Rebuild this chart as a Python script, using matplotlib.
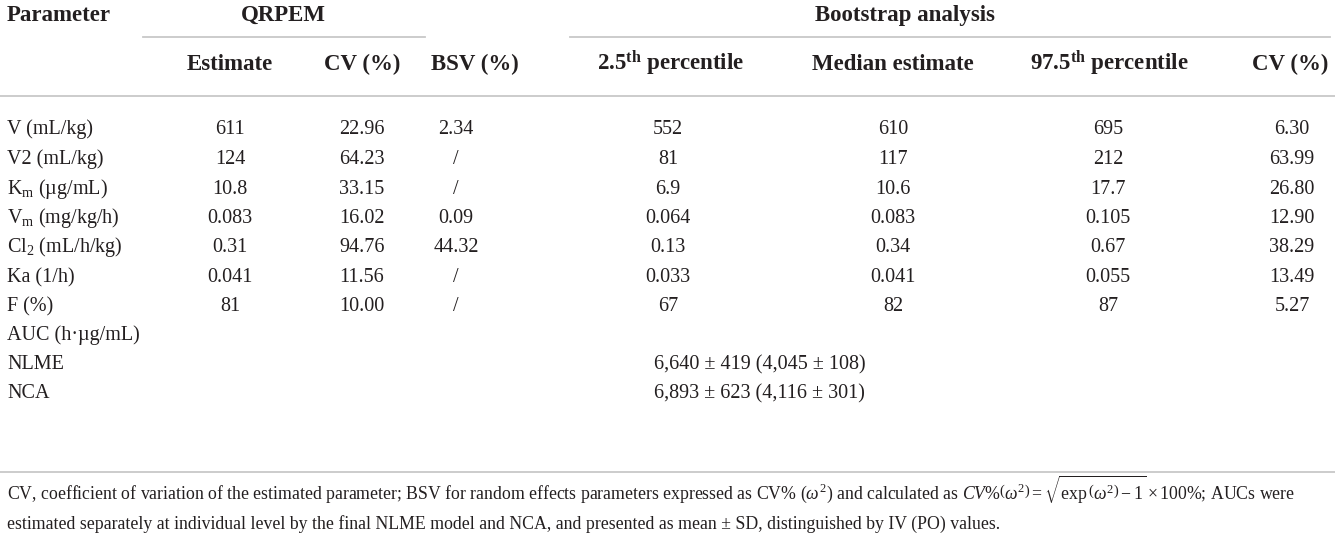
import matplotlib.pyplot as plt
from matplotlib.lines import Line2D

plt.rcParams['font.family'] = ['Liberation Serif', 'DejaVu Serif']
plt.rcParams['mathtext.fontset'] = 'custom'
plt.rcParams['mathtext.rm'] = 'Liberation Serif'
plt.rcParams['mathtext.it'] = 'Liberation Serif:italic'
plt.rcParams['mathtext.bf'] = 'Liberation Serif:bold'

# table content
params = ['V (mL/kg)', 'V2 (mL/kg)', r'K$_{\mathrm{m}}$ (µg/mL)', r'V$_{\mathrm{m}}$ (mg/kg/h)',
          r'Cl$_{2}$ (mL/h/kg)', 'Ka (1/h)', 'F (%)']
estimate = ['611', '124', '10.8', '0.083', '0.31', '0.041', '81']
cv_qrpem = ['22.96', '64.23', '33.15', '16.02', '94.76', '11.56', '10.00']
bsv = ['2.34', '/', '/', '0.09', '44.32', '/', '/']
p2_5 = ['552', '81', '6.9', '0.064', '0.13', '0.033', '67']
median = ['610', '117', '10.6', '0.083', '0.34', '0.041', '82']
p97_5 = ['695', '212', '17.7', '0.105', '0.67', '0.055', '87']
cv_boot = ['6.30', '63.99', '26.80', '12.90', '38.29', '13.49', '5.27']

auc_label = 'AUC (h·µg/mL)'
auc_rows = ['NLME', 'NCA']
auc_vals = ['6,640 ± 419 (4,045 ± 108)', '6,893 ± 623 (4,116 ± 301)']

col_heads = ['Estimate', 'CV (%)', 'BSV (%)', r'2.5$^{\mathbf{th}}$ percentile',
             'Median estimate', r'97.5$^{\mathbf{th}}$ percentile', 'CV (%)']

W, H = 1335, 541
fig = plt.figure(figsize=(W / 100, H / 100), dpi=100)
fig.patch.set_facecolor('white')


def put(x, y, s, **kw):
    # y is the baseline in pixels from the top
    fig.text(x / W, 1 - y / H, s, va='baseline', color='#231f20', **kw)


def rule(x0, x1, y):
    fig.add_artist(Line2D([x0 / W, x1 / W], [1 - y / H, 1 - y / H],
                          color='#c8c8c8', lw=1.3, transform=fig.transFigure))


fs_head = 16.5
fs_body = 14.5
col_x = [230, 362, 456, 668, 893, 1108, 1292]
head_x = [230, 362, 475, 671, 893, 1109, 1290]

# header
put(7, 21, 'Parameter', fontsize=fs_head, fontweight='bold')
put(283, 21, 'QRPEM', fontsize=fs_head, fontweight='bold', ha='center')
put(905, 21, 'Bootstrap analysis', fontsize=fs_head, fontweight='bold', ha='center')
rule(143, 425, 37)
rule(570, 1330, 37)
for x, h in zip(head_x, col_heads):
    put(x, 70, h, fontsize=fs_head, fontweight='bold', ha='center')
rule(0, 1335, 96)

# body
row_y = [134, 164, 194, 223, 252, 282, 311]
cols = [estimate, cv_qrpem, bsv, p2_5, median, p97_5, cv_boot]
for i, y in enumerate(row_y):
    put(7, y, params[i], fontsize=fs_body)
    for x, c in zip(col_x, cols):
        put(x, y, c[i], fontsize=fs_body, ha='center')

put(7, 340, auc_label, fontsize=fs_body)
for y, lab, val in zip([369, 398], auc_rows, auc_vals):
    put(7, y, lab, fontsize=fs_body)
    put(654, y, val, fontsize=fs_body)

rule(0, 1335, 472)

# footnote
put(7, 499, r'CV, coefficient of variation of the estimated parameter; BSV for random effects parameters '
            r'expressed as CV% ($\omega^2$) and calculated as $CV\%\left(\omega^2\right)='
            r'\sqrt{\exp\left(\omega^2\right)-1}\times 100\%$; AUCs were', fontsize=12.8)
put(7, 529, 'estimated separately at individual level by the final NLME model and NCA, and presented as '
            'mean ± SD, distinguished by IV (PO) values.', fontsize=12.8)

fig.savefig('out.png', dpi=100, facecolor='white')
